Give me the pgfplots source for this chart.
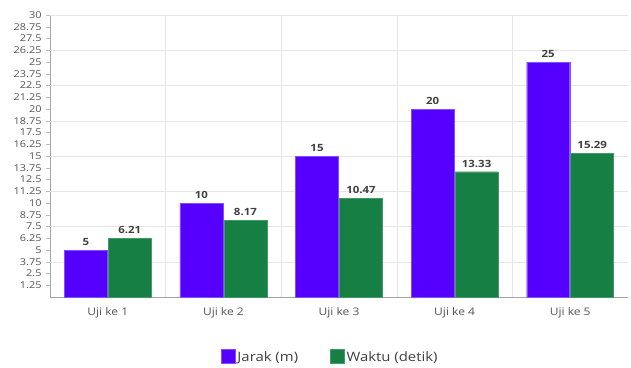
\documentclass[border=0pt]{standalone}
\usepackage{pgfplots}
\pgfplotsset{compat=1.18}
\usepackage{fontspec}
\setmainfont{Open Sans}[FakeStretch=1.15]
\definecolor{jarak}{HTML}{5500FF}
\definecolor{waktu}{HTML}{168044}
\definecolor{ticktext}{HTML}{555555}
\definecolor{gridc}{HTML}{E6E6E6}
\begin{document}
\begin{tikzpicture}[x=1bp,y=1bp]
\path (-50,-70) rectangle (581,297);
\begin{axis}[at={(0,0)}, anchor=south west, scale only axis,
  width=578bp, height=282bp,
  xmin=-0.5, xmax=4.5, ymin=0, ymax=30,
  axis x line=bottom, axis y line=left,
  axis line style={-, draw=gray!70},
  /pgf/number format/assume math mode=true,
  xtick={0,1,2,3,4},
  xticklabels={Uji ke 1,Uji ke 2,Uji ke 3,Uji ke 4,Uji ke 5},
  x tick label style={font=\fontsize{10.5}{11}\selectfont, text=ticktext, yshift=-3bp},
  major x tick style={draw=none},
  ytick={1.25,2.5,3.75,5,6.25,7.5,8.75,10,11.25,12.5,13.75,15,16.25,17.5,18.75,20,21.25,22.5,23.75,25,26.25,27.5,28.75,30},
  yticklabels={1.25,2.5,3.75,5,6.25,7.5,8.75,10,11.25,12.5,13.75,15,16.25,17.5,18.75,20,21.25,22.5,23.75,25,26.25,27.5,28.75,30},
  y tick label style={font=\fontsize{9.5}{10}\selectfont, text=ticktext, xshift=-1bp},
  major y tick style={draw=gray!50},
  tick align=outside, major tick length=4bp,
  extra x ticks={0.5,1.5,2.5,3.5}, extra x tick labels={},
  extra x tick style={grid=major, major grid style={gridc}, major tick length=0pt},
  extra y ticks={3.75,7.5,11.25,15,18.75,22.5,26.25,30}, extra y tick labels={},
  extra y tick style={grid=major, major grid style={gridc}, major tick length=0pt},
  legend style={at={(0.485,-0.213)}, anchor=center, draw=none, legend columns=2,
    font=\fontsize{13}{13}\selectfont, text=black!75,
    /tikz/every even column/.append style={column sep=30bp}},
  legend image code/.code={\fill[#1] (0bp,-6.5bp) rectangle (14bp,7.5bp);},
]
\addplot[ybar, bar width=0.372, bar shift=-0.19, fill=jarak, draw=jarak!70!white,
  nodes near coords, every node near coord/.append style={font=\fontsize{10}{10}\selectfont\bfseries, text=black!75, xshift=-22bp, yshift=1bp}]
  coordinates {(0,5) (1,10) (2,15) (3,20) (4,25)};
\addlegendentry{Jarak (m)}
\addplot[ybar, bar width=0.372, bar shift=0.19, fill=waktu, draw=waktu!80!white,
  nodes near coords, every node near coord/.append style={font=\fontsize{10}{10}\selectfont\bfseries, text=black!75, xshift=22bp, yshift=1bp}]
  coordinates {(0,6.21) (1,8.17) (2,10.47) (3,13.33) (4,15.29)};
\addlegendentry{Waktu (detik)}
\end{axis}
\end{tikzpicture}
\end{document}
